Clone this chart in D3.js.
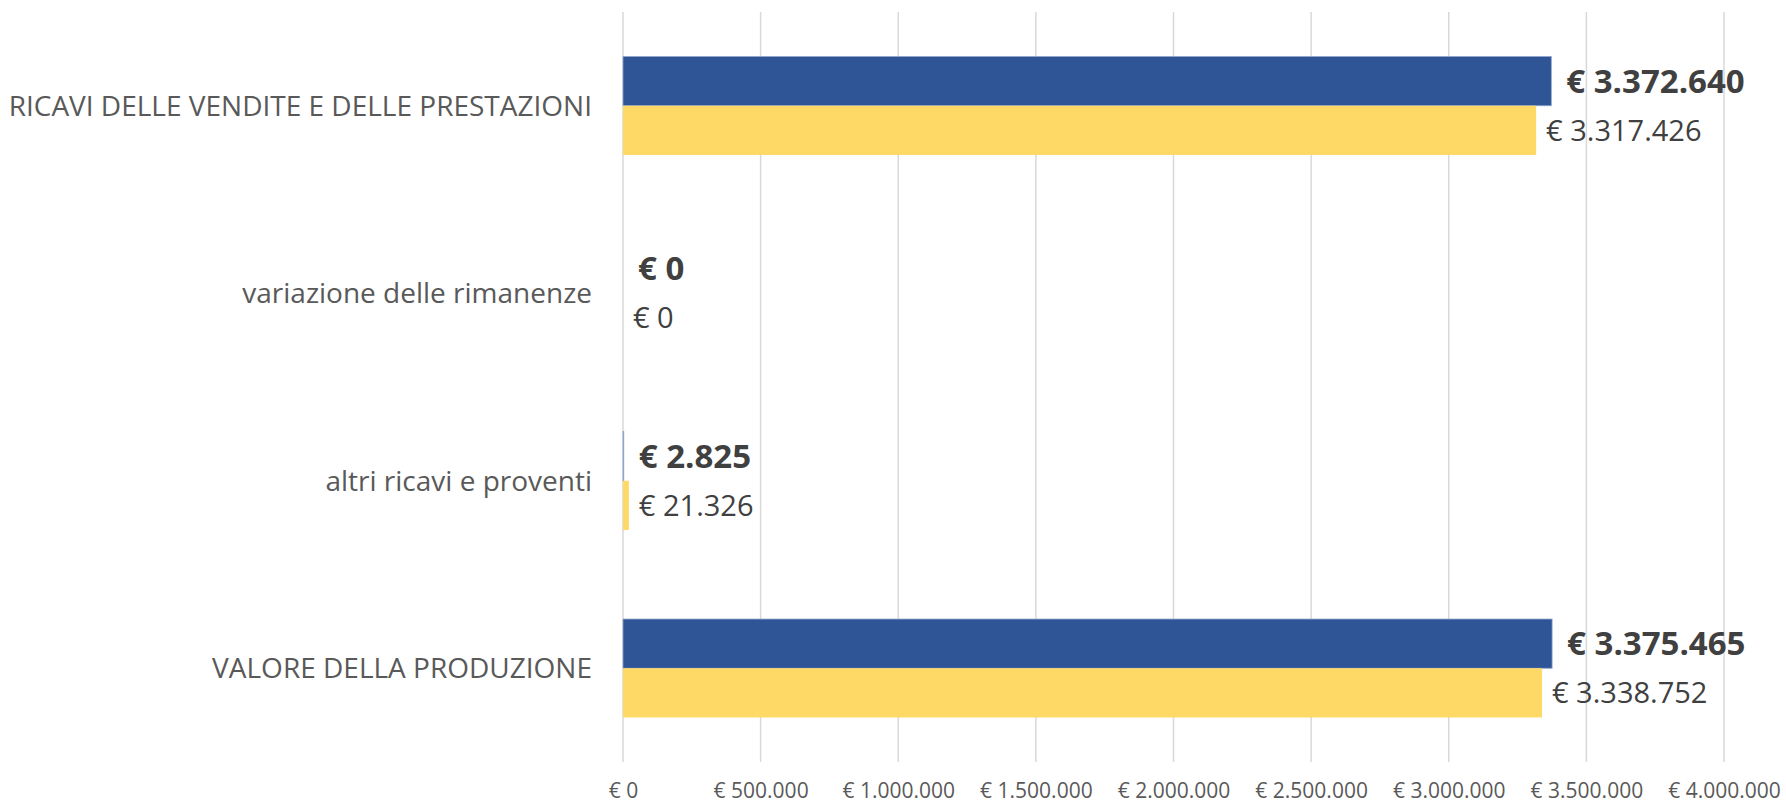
<!DOCTYPE html>
<html>
<head>
<meta charset="utf-8">
<script src="https://cdn.jsdelivr.net/npm/d3@7"></script>
<style>
  body { margin: 0; background: #fff; }
  svg { display: block; font-family: "Open Sans", Lato, sans-serif; }
</style>
</head>
<body>
<svg id="chart" width="1786" height="804"></svg>
<script>
// categories, top to bottom
const categories = [
  "RICAVI DELLE VENDITE E DELLE PRESTAZIONI",
  "variazione delle rimanenze",
  "altri ricavi e proventi",
  "VALORE DELLA PRODUZIONE"
];
// blue series (bold labels) and yellow series
const currentValues = [3372640, 0, 2825, 3375465];
const previousValues = [3317426, 0, 21326, 3338752];
const tickValues = [0, 500000, 1000000, 1500000, 2000000, 2500000, 3000000, 3500000, 4000000];

const width = 1786;
const height = 804;
const margin = { top: 12, right: 62, bottom: 42, left: 623 };

const it = d3.formatLocale({ decimal: ",", thousands: ".", grouping: [3], currency: ["€ ", ""] });
const fmt = it.format("$,.0f");

const svg = d3.select("#chart");

const x = d3.scaleLinear()
  .domain([0, 4000000])
  .range([margin.left, width - margin.right]);

const y = d3.scaleBand()
  .domain(categories)
  .range([margin.top, height - margin.bottom])
  .padding(0);

const bw = y.bandwidth();
const sub = d3.scaleBand()
  .domain(["current", "previous"])
  .range([bw * 0.2375, bw * 0.7625]);

// gridlines
svg.append("g")
  .selectAll("line")
  .data(tickValues)
  .enter()
  .append("line")
  .attr("x1", d => x(d))
  .attr("x2", d => x(d))
  .attr("y1", margin.top)
  .attr("y2", height - margin.bottom)
  .attr("stroke", "#d9d9d9")
  .attr("stroke-width", 1.5);

// x axis labels
const xAxis = d3.axisBottom(x)
  .tickValues(tickValues)
  .tickFormat(fmt)
  .tickSize(0)
  .tickPadding(0);

const ax = svg.append("g")
  .attr("transform", "translate(0," + (height - margin.bottom) + ")")
  .call(xAxis);
ax.select(".domain").remove();
ax.selectAll("text")
  .attr("y", 29)
  .attr("dy", "0.35em")
  .attr("fill", "#595959")
  .style("font-size", "21px")
  .style("font-family", "'Open Sans', sans-serif");

// category labels
svg.append("g")
  .selectAll("text")
  .data(categories)
  .enter()
  .append("text")
  .attr("x", 592)
  .attr("y", d => y(d) + bw / 2)
  .attr("dy", "0.35em")
  .attr("text-anchor", "end")
  .attr("fill", "#595959")
  .style("font-size", "28px")
  .text(d => d);

const rows = categories.map((c, i) => ({ cat: c, current: currentValues[i], previous: previousValues[i] }));

const groups = svg.append("g")
  .selectAll("g")
  .data(rows)
  .enter()
  .append("g")
  .attr("transform", d => "translate(0," + y(d.cat) + ")");

// blue bars
groups.append("rect")
  .attr("x", x(0))
  .attr("y", sub("current"))
  .attr("width", d => x(d.current) - x(0))
  .attr("height", sub.bandwidth())
  .attr("fill", "#2f5597")
  .attr("stroke", d => d.current > 0 ? "#8ea6cf" : "none")
  .attr("stroke-width", 0.8);

// yellow bars
groups.append("rect")
  .attr("x", x(0))
  .attr("y", sub("previous"))
  .attr("width", d => x(d.previous) - x(0))
  .attr("height", sub.bandwidth())
  .attr("fill", "#ffd966");

// value labels
groups.append("text")
  .attr("x", d => x(d.current) + 15)
  .attr("y", sub("current") + sub.bandwidth() / 2)
  .attr("dy", "0.35em")
  .attr("fill", "#404040")
  .style("font-size", "33px")
  .style("font-weight", "bold")
  .text(d => fmt(d.current));

groups.append("text")
  .attr("x", d => x(d.previous) + 10)
  .attr("y", sub("previous") + sub.bandwidth() / 2)
  .attr("dy", "0.35em")
  .attr("fill", "#404040")
  .style("font-size", "29px")
  .text(d => fmt(d.previous));
</script>
</body>
</html>
